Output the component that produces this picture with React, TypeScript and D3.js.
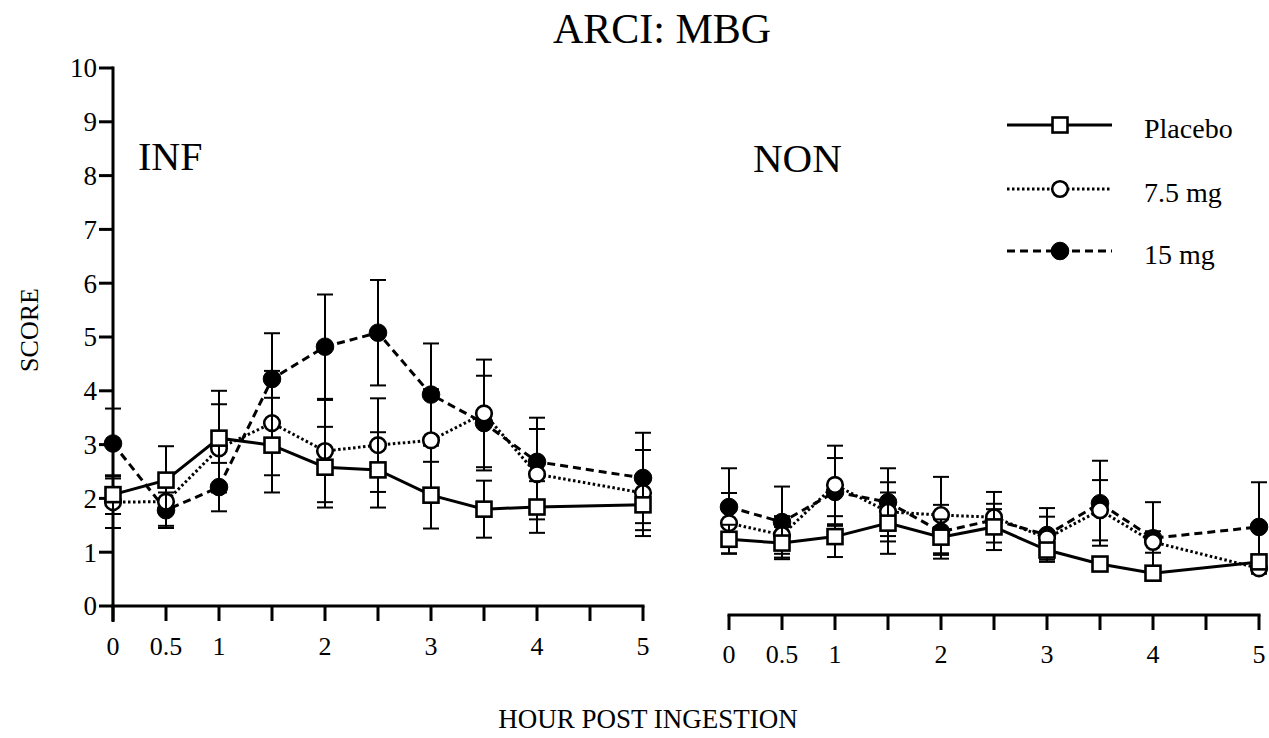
import React from "react";
import * as d3 from "d3";

const hours = [0, 0.5, 1, 1.5, 2, 2.5, 3, 3.5, 4, 5];
const xTickValues = [0, 0.5, 1, 1.5, 2, 2.5, 3, 3.5, 4, 4.5, 5];
const xTickLabels = ["0", "0.5", "1", "", "2", "", "3", "", "4", "", "5"];
const yTicks = [0, 1, 2, 3, 4, 5, 6, 7, 8, 9, 10];

// INF panel
const infPlacebo = [2.07, 2.34, 3.12, 2.99, 2.58, 2.53, 2.06, 1.8, 1.84, 1.88];
const infPlaceboSE = [0.36, 0.63, 0.88, 0.88, 0.75, 0.7, 0.62, 0.53, 0.48, 0.47];
const inf75 = [1.93, 1.94, 2.93, 3.4, 2.88, 2.99, 3.08, 3.58, 2.45, 2.1];
const inf75SE = [0.48, 0.45, 0.82, 0.97, 0.95, 0.87, 0.95, 1.0, 0.84, 0.8];
const inf15 = [3.02, 1.78, 2.21, 4.22, 4.82, 5.08, 3.93, 3.4, 2.68, 2.38];
const inf15SE = [0.65, 0.33, 0.45, 0.85, 0.97, 0.98, 0.95, 0.88, 0.82, 0.84];

// NON panel
const nonPlacebo = [1.24, 1.17, 1.29, 1.54, 1.28, 1.47, 1.04, 0.78, 0.61, 0.82];
const nonPlaceboSE = [0.27, 0.3, 0.38, 0.57, 0.33, 0.43, 0.13, 0.1, 0.1, 0.1];
const non75 = [1.54, 1.32, 2.25, 1.75, 1.69, 1.65, 1.26, 1.78, 1.19, 0.7];
const non75SE = [0.56, 0.35, 0.73, 0.55, 0.71, 0.47, 0.4, 0.56, 0.2, 0.1];
const non15 = [1.84, 1.56, 2.12, 1.93, 1.38, 1.6, 1.32, 1.91, 1.26, 1.47];
const non15SE = [0.72, 0.66, 0.63, 0.63, 0.5, 0.2, 0.5, 0.79, 0.67, 0.83];

const legendLabels = ["Placebo", "7.5 mg", "15 mg"];

const FONT = "'Liberation Serif', 'Times New Roman', serif";

const yScale = d3.scaleLinear().domain([0, 10]).range([606, 68]);
const xLeft = d3.scaleLinear().domain([0, 5]).range([113, 643]);
const xRight = d3.scaleLinear().domain([0, 5]).range([729, 1259]);

type Kind = "placebo" | "mid" | "high";

const lineStyle: Record<Kind, { dash?: string; width: number }> = {
  placebo: { width: 3 },
  mid: { dash: "2.5 2.5", width: 3 },
  high: { dash: "8 5", width: 3 },
};

function Marker({ kind, x, y }: { kind: Kind; x: number; y: number }) {
  if (kind === "placebo") {
    return <rect x={x - 7.5} y={y - 7.5} width={15} height={15} fill="#fff" stroke="#000" strokeWidth={2.6} />;
  }
  if (kind === "mid") {
    return <circle cx={x} cy={y} r={7.8} fill="#fff" stroke="#000" strokeWidth={2.6} />;
  }
  return <circle cx={x} cy={y} r={8.8} fill="#000" stroke="#000" strokeWidth={1} />;
}

function Series({
  xs,
  vals,
  se,
  kind,
}: {
  xs: d3.ScaleLinear<number, number>;
  vals: number[];
  se: number[];
  kind: Kind;
}) {
  const pts = hours.map((h, i) => [xs(h), yScale(vals[i])] as [number, number]);
  const path = d3.line()(pts) || "";
  const st = lineStyle[kind];
  return (
    <g>
      {hours.map((h, i) => {
        const x = xs(h);
        const y1 = yScale(vals[i] + se[i]);
        const y2 = yScale(vals[i] - se[i]);
        return (
          <g key={i} stroke="#000" strokeWidth={2}>
            <line x1={x} x2={x} y1={y1} y2={y2} />
            <line x1={x - 8} x2={x + 8} y1={y1} y2={y1} />
            <line x1={x - 8} x2={x + 8} y1={y2} y2={y2} />
          </g>
        );
      })}
      <path d={path} fill="none" stroke="#000" strokeWidth={st.width} strokeDasharray={st.dash} />
      {pts.map((p, i) => (
        <Marker key={i} kind={kind} x={p[0]} y={p[1]} />
      ))}
    </g>
  );
}

function Panel({
  xs,
  axisY,
  labelY,
  data,
}: {
  xs: d3.ScaleLinear<number, number>;
  axisY: number;
  labelY: number;
  data: { vals: number[]; se: number[]; kind: Kind }[];
}) {
  const [x0, x1] = xs.range();
  return (
    <g>
      <line x1={x0 - 1.5} x2={x1 + 1.5} y1={axisY} y2={axisY} stroke="#000" strokeWidth={3} />
      {xTickValues.map((t, i) => (
        <g key={i}>
          <line x1={xs(t)} x2={xs(t)} y1={axisY} y2={axisY + 15} stroke="#000" strokeWidth={3} />
          {xTickLabels[i] && (
            <text x={xs(t)} y={labelY} textAnchor="middle" fontSize={26} fontFamily={FONT}>
              {xTickLabels[i]}
            </text>
          )}
        </g>
      ))}
      {data.map((d, i) => (
        <Series key={i} xs={xs} vals={d.vals} se={d.se} kind={d.kind} />
      ))}
    </g>
  );
}

export default function App() {
  const legendY = [125, 189, 251];
  const kinds: Kind[] = ["placebo", "mid", "high"];
  return (
    <svg
      width={1269}
      height={738}
      style={{ position: "absolute", left: 0, top: 0, background: "#fff" }}
    >
      <rect x={0} y={0} width={1269} height={738} fill="#fff" />
      <text x={662} y={43} textAnchor="middle" fontSize={42} fontFamily={FONT}>
        ARCI: MBG
      </text>
      <text
        transform="translate(38,330) rotate(-90)"
        textAnchor="middle"
        fontSize={26}
        fontFamily={FONT}
      >
        SCORE
      </text>
      <text x={648} y={728} textAnchor="middle" fontSize={27} fontFamily={FONT}>
        HOUR POST INGESTION
      </text>
      <text x={138} y={170} fontSize={40} fontFamily={FONT}>
        INF
      </text>
      <text x={753} y={172} fontSize={41} fontFamily={FONT}>
        NON
      </text>

      {/* Y axis */}
      <line x1={113} x2={113} y1={yScale(10) - 1.5} y2={622} stroke="#000" strokeWidth={3} />
      {yTicks.map((t) => (
        <g key={t}>
          <line x1={99} x2={113} y1={yScale(t)} y2={yScale(t)} stroke="#000" strokeWidth={3} />
          <text x={97} y={yScale(t)} dy="0.35em" textAnchor="end" fontSize={27} fontFamily={FONT}>
            {t}
          </text>
        </g>
      ))}

      <Panel
        xs={xLeft}
        axisY={606}
        labelY={655}
        data={[
          { vals: inf15, se: inf15SE, kind: "high" },
          { vals: inf75, se: inf75SE, kind: "mid" },
          { vals: infPlacebo, se: infPlaceboSE, kind: "placebo" },
        ]}
      />
      <Panel
        xs={xRight}
        axisY={615}
        labelY={663}
        data={[
          { vals: non15, se: non15SE, kind: "high" },
          { vals: non75, se: non75SE, kind: "mid" },
          { vals: nonPlacebo, se: nonPlaceboSE, kind: "placebo" },
        ]}
      />

      {/* Legend */}
      {legendLabels.map((lab, i) => {
        const st = lineStyle[kinds[i]];
        return (
          <g key={lab}>
            <line
              x1={1007}
              x2={1112}
              y1={legendY[i]}
              y2={legendY[i]}
              stroke="#000"
              strokeWidth={st.width}
              strokeDasharray={st.dash}
            />
            <Marker kind={kinds[i]} x={1060} y={legendY[i]} />
            <text x={1144} y={legendY[i] + 13} fontSize={28} fontFamily={FONT}>
              {lab}
            </text>
          </g>
        );
      })}
    </svg>
  );
}
